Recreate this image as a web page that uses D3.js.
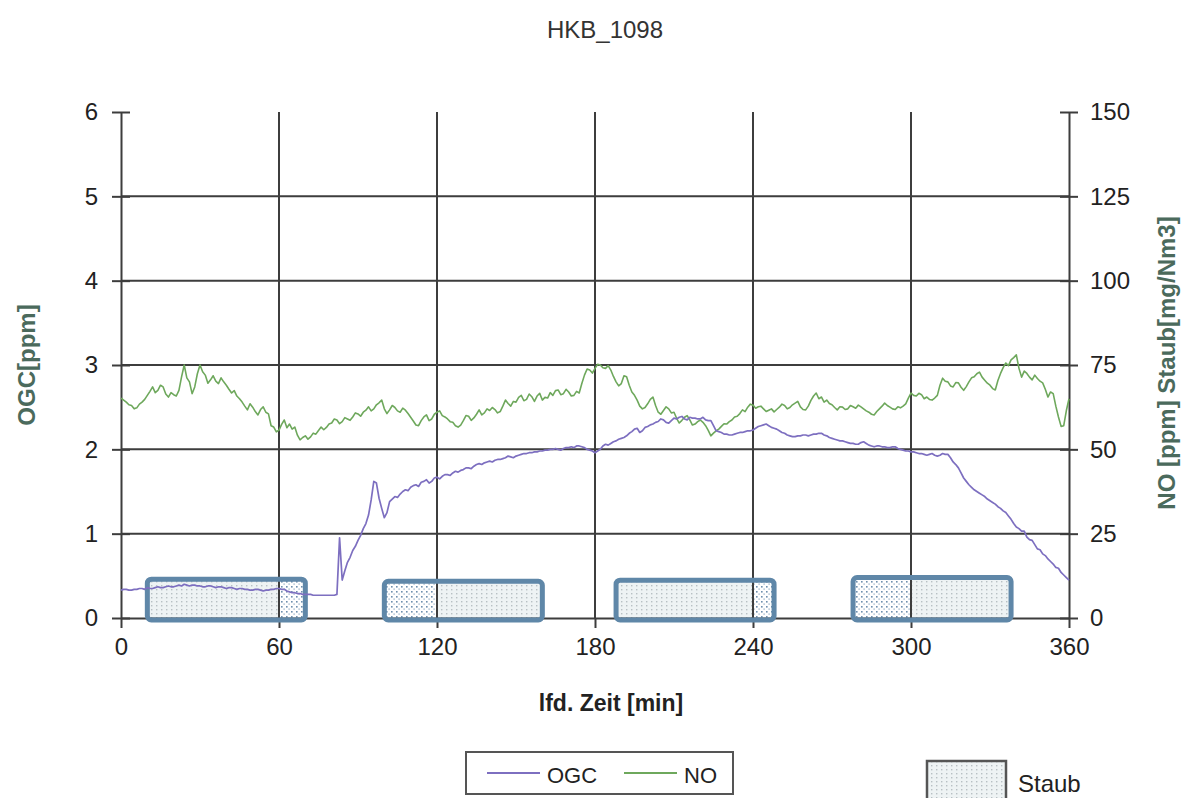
<!DOCTYPE html>
<html>
<head>
<meta charset="utf-8">
<script src="https://cdn.jsdelivr.net/npm/d3@7"></script>
<style>
  html, body { margin: 0; padding: 0; background: #ffffff; }
  svg { display: block; font-family: "Liberation Sans", Arial, sans-serif; }
</style>
</head>
<body>
<svg id="chart" width="1189" height="798"></svg>
<script>
// ---- data ----------------------------------------------------------------
const chartTitle = "HKB_1098";

// one reading per minute, 0 ... 360 min
const minutes = d3.range(0, 361);

// OGC [ppm], left axis
const ogcValue = [
  0.33,0.34,0.34,0.33,0.33,0.34,0.34,0.35,0.35,0.34,
  0.36,0.35,0.35,0.36,0.37,0.36,0.36,0.37,0.38,0.37,
  0.37,0.38,0.39,0.38,0.40,0.39,0.38,0.39,0.39,0.38,
  0.38,0.37,0.37,0.38,0.38,0.37,0.36,0.37,0.37,0.36,
  0.35,0.36,0.36,0.35,0.34,0.35,0.35,0.34,0.34,0.33,
  0.33,0.34,0.34,0.33,0.32,0.33,0.33,0.34,0.34,0.35,
  0.35,0.34,0.34,0.32,0.31,0.30,0.30,0.29,0.29,0.28,
  0.28,0.28,0.28,0.27,0.27,0.27,0.27,0.27,0.27,0.27,
  0.27,0.27,0.28,0.95,0.45,0.56,0.66,0.72,0.80,0.85,
  0.92,0.98,1.06,1.12,1.22,1.40,1.62,1.60,1.42,1.30,
  1.19,1.25,1.38,1.41,1.44,1.43,1.47,1.50,1.52,1.51,
  1.55,1.57,1.58,1.56,1.61,1.62,1.64,1.60,1.62,1.66,
  1.67,1.65,1.68,1.70,1.70,1.69,1.72,1.74,1.73,1.75,
  1.76,1.78,1.78,1.77,1.80,1.82,1.83,1.82,1.84,1.85,
  1.86,1.85,1.87,1.88,1.88,1.89,1.90,1.92,1.91,1.90,
  1.92,1.93,1.94,1.95,1.95,1.96,1.96,1.97,1.97,1.98,
  1.98,1.99,1.99,2.00,2.00,2.01,2.00,1.99,2.01,2.02,
  2.02,2.03,2.02,2.04,2.04,2.03,2.02,2.00,1.99,1.98,
  1.96,1.98,2.00,2.04,2.06,2.05,2.07,2.09,2.10,2.12,
  2.13,2.14,2.16,2.19,2.21,2.24,2.25,2.20,2.22,2.26,
  2.27,2.29,2.30,2.32,2.33,2.36,2.35,2.32,2.31,2.34,
  2.37,2.36,2.38,2.39,2.36,2.35,2.38,2.37,2.37,2.36,
  2.36,2.38,2.35,2.34,2.34,2.28,2.22,2.21,2.20,2.18,
  2.18,2.17,2.17,2.18,2.19,2.20,2.20,2.21,2.22,2.22,
  2.23,2.25,2.27,2.28,2.29,2.30,2.28,2.26,2.25,2.24,
  2.22,2.20,2.19,2.17,2.16,2.15,2.15,2.16,2.16,2.17,
  2.17,2.16,2.17,2.18,2.18,2.19,2.19,2.17,2.16,2.14,
  2.13,2.12,2.11,2.10,2.10,2.09,2.08,2.07,2.07,2.06,
  2.06,2.08,2.09,2.07,2.05,2.04,2.03,2.04,2.04,2.03,
  2.03,2.02,2.02,2.03,2.03,2.01,2.00,1.99,1.98,1.98,
  1.97,1.97,1.96,1.95,1.95,1.94,1.93,1.94,1.95,1.93,
  1.92,1.93,1.95,1.94,1.94,1.90,1.85,1.82,1.78,1.72,
  1.66,1.62,1.58,1.55,1.52,1.50,1.48,1.46,1.44,1.41,
  1.39,1.37,1.35,1.32,1.30,1.27,1.25,1.21,1.17,1.12,
  1.08,1.06,1.03,1.03,0.96,0.93,0.92,0.87,0.82,0.81,
  0.76,0.74,0.70,0.67,0.64,0.60,0.59,0.54,0.51,0.48,
  0.45
];

// NO [ppm], right axis
const noValue = [
  65.2,64.6,64.0,63.2,63.0,62.0,62.3,63.4,64.0,64.8,
  66.0,67.2,68.5,66.8,67.5,69.0,68.5,66.4,65.5,66.8,
  66.2,65.8,67.5,71.5,75.0,71.2,70.0,66.5,68.5,72.4,
  75.0,73.0,72.0,69.6,70.6,71.8,70.2,69.5,71.2,70.0,
  69.0,67.8,66.7,67.4,65.8,65.0,64.0,62.8,61.7,63.5,
  62.5,61.2,60.2,61.8,62.6,61.0,60.5,57.0,56.6,55.2,
  55.7,57.4,58.7,56.4,57.5,56.0,56.6,54.2,52.8,53.5,
  54.0,53.0,53.7,54.8,54.5,55.6,56.6,55.8,56.5,57.5,
  57.8,59.0,58.7,57.6,58.2,59.4,59.0,58.6,59.6,60.8,
  60.5,59.8,61.0,61.6,62.6,61.4,62.0,63.2,63.8,64.6,
  62.0,60.6,61.7,63.0,62.4,61.4,61.0,62.2,61.6,60.6,
  59.5,58.4,57.2,57.0,58.5,59.6,60.2,58.5,59.0,60.4,
  61.0,61.4,60.0,59.6,59.0,58.2,58.0,57.0,56.6,57.2,
  58.5,60.0,59.8,58.6,59.3,60.4,61.7,60.2,60.8,62.0,
  61.5,62.4,61.8,60.8,61.2,62.8,64.6,63.6,62.8,64.2,
  64.0,65.4,66.0,64.4,64.8,66.4,65.6,64.2,65.8,66.6,
  64.6,65.4,65.2,66.8,66.0,67.4,67.6,66.2,66.5,67.8,
  67.0,65.8,66.0,67.2,66.7,69.5,72.0,73.8,73.5,72.6,
  74.0,75.2,75.0,74.2,74.0,74.8,73.5,71.6,70.0,68.8,
  69.5,71.8,71.5,69.0,67.0,66.0,64.6,62.8,62.0,62.4,
  63.5,64.8,65.5,63.0,61.0,60.4,61.5,62.6,62.0,60.8,
  61.0,59.2,57.8,58.6,59.5,60.0,58.7,57.2,57.5,58.2,
  58.7,58.0,57.0,55.6,54.0,54.8,55.5,56.0,56.8,57.6,
  57.5,58.2,58.7,59.6,59.8,60.6,61.7,61.2,62.5,63.4,
  63.1,62.2,62.6,62.8,62.0,61.2,61.6,62.0,61.1,61.8,
  62.5,63.4,63.0,62.0,62.4,63.2,63.7,64.2,62.6,61.8,
  61.7,62.8,64.5,65.8,66.7,65.0,65.5,64.0,64.6,63.6,
  63.2,62.4,61.7,62.6,62.5,61.8,62.0,63.0,62.6,62.2,
  63.1,62.6,62.0,61.4,61.0,60.4,60.2,61.2,62.0,62.8,
  63.7,63.0,62.5,62.0,61.8,62.6,62.3,62.8,63.5,65.2,
  66.7,66.0,65.8,66.6,66.2,65.0,65.5,64.8,64.6,65.2,
  66.0,69.0,71.1,70.2,70.0,68.8,68.5,69.8,69.7,68.4,
  67.5,68.6,70.0,71.2,71.5,72.4,72.9,71.4,70.5,69.6,
  69.0,68.0,67.6,70.4,72.5,74.2,75.6,74.8,76.5,77.2,
  78.0,74.0,71.4,73.2,72.5,71.4,70.6,72.0,71.0,70.2,
  69.7,67.8,65.5,67.0,66.5,62.8,59.6,56.8,57.0,61.5,
  65.0
];

// Staub [mg/Nm3] sampling intervals, right axis
const staubStart = [10, 100, 188, 278];
const staubEnd   = [70, 160, 248, 338];
const staubValue = [11.5, 10.9, 11.2, 12.0];

// axis ticks
const xTicks = [0, 60, 120, 180, 240, 300, 360];
const leftTicks = [0, 1, 2, 3, 4, 5, 6];
const rightTicks = [0, 25, 50, 75, 100, 125, 150];

// ---- layout ----------------------------------------------------------------
const svg = d3.select("#chart");
const L = 121, R = 1069, T = 112, B = 618;
const gridColor = "#3d3d3d";
const titleColor = "#4b6a5c";
const ogcColor = "#7d6fc0";
const noColor = "#6ea85c";

const x = d3.scaleLinear().domain([0, 360]).range([L, R]);
const yL = d3.scaleLinear().domain([0, 6]).range([B, T]);
const yR = d3.scaleLinear().domain([0, 150]).range([B, T]);

// ---- patterns for the Staub columns -----------------------------------------
const defs = svg.append("defs");
const light = defs.append("pattern").attr("id", "staubLight")
  .attr("patternUnits", "userSpaceOnUse").attr("width", 5).attr("height", 4);
light.append("rect").attr("width", 5).attr("height", 4).attr("fill", "#eef3f4");
light.append("rect").attr("x", 1).attr("y", 1).attr("width", 1.4).attr("height", 1.4).attr("fill", "#b7c0c4");

const dense = defs.append("pattern").attr("id", "staubDense")
  .attr("patternUnits", "userSpaceOnUse").attr("width", 5).attr("height", 5);
dense.append("rect").attr("width", 5).attr("height", 5).attr("fill", "#ffffff");
dense.append("rect").attr("x", 1).attr("y", 1).attr("width", 1.6).attr("height", 1.6).attr("fill", "#6d8fae");
dense.append("rect").attr("x", 3.5).attr("y", 3.5).attr("width", 1.2).attr("height", 1.2).attr("fill", "#8aa5bd");

const staub = staubStart.map((s, i) => ({ s, e: staubEnd[i], v: staubValue[i] }));

// column fills (light pattern, denser pattern on the short side of the gridline crossed)
const fills = svg.append("g");
staub.forEach(d => {
  const x0 = x(d.s), x1 = x(d.e), y0 = yR(d.v);
  fills.append("rect").attr("x", x0).attr("y", y0).attr("width", x1 - x0).attr("height", B - y0)
    .attr("fill", "url(#staubLight)");
  const g = xTicks.find(t => t > d.s && t < d.e);
  if (g !== undefined) {
    const gx = x(g);
    const leftShort = (gx - x0) < (x1 - gx);
    const a = leftShort ? x0 : gx, b = leftShort ? gx : x1;
    fills.append("rect").attr("x", a).attr("y", y0).attr("width", b - a).attr("height", B - y0)
      .attr("fill", "url(#staubDense)");
  }
});

// ---- grid -------------------------------------------------------------------
const grid = svg.append("g").attr("stroke", gridColor).attr("stroke-width", 2);
grid.selectAll("line.h").data(leftTicks.filter(t => t > 0 && t < 6)).join("line")
  .attr("x1", L).attr("x2", R).attr("y1", d => yL(d)).attr("y2", d => yL(d));
grid.selectAll("line.v").data(xTicks.filter(t => t > 0 && t < 360)).join("line")
  .attr("y1", T).attr("y2", B).attr("x1", d => x(d)).attr("x2", d => x(d));

// ---- axes -------------------------------------------------------------------
function styleAxis(g) {
  g.select(".domain").attr("stroke", gridColor).attr("stroke-width", 2);
  g.selectAll(".tick line").attr("stroke", gridColor).attr("stroke-width", 2);
  g.selectAll(".tick text").attr("fill", "#222").style("font-size", "24px")
    .style("font-family", "'Liberation Sans', Arial, sans-serif");
}

const axL = svg.append("g").attr("transform", `translate(${L},0)`)
  .call(d3.axisLeft(yL).tickValues(leftTicks).tickFormat(d3.format("d")).tickSizeInner(9).tickSizeOuter(0).tickPadding(14));
styleAxis(axL);
axL.selectAll(".tick line").attr("x2", -9).attr("x1", 9);

const axR = svg.append("g").attr("transform", `translate(${R},0)`)
  .call(d3.axisRight(yR).tickValues(rightTicks).tickFormat(d3.format("d")).tickSizeInner(9).tickSizeOuter(0).tickPadding(12));
styleAxis(axR);
axR.selectAll(".tick line").attr("x1", -9).attr("x2", 9);

const axB = svg.append("g").attr("transform", `translate(0,${B})`)
  .call(d3.axisBottom(x).tickValues(xTicks).tickFormat(d3.format("d")).tickSizeInner(10).tickSizeOuter(0).tickPadding(10));
styleAxis(axB);

// ---- Staub column borders --------------------------------------------------
svg.append("g").selectAll("rect").data(staub).join("rect")
  .attr("x", d => x(d.s)).attr("y", d => yR(d.v))
  .attr("width", d => x(d.e) - x(d.s)).attr("height", d => B - yR(d.v) + 2)
  .attr("rx", 4).attr("ry", 4)
  .attr("fill", "none").attr("stroke", "#5f87a8").attr("stroke-width", 5);

// ---- series lines ----------------------------------------------------------
const ogcLine = d3.line().x((d, i) => x(minutes[i])).y(d => yL(d));
const noLine = d3.line().x((d, i) => x(minutes[i])).y(d => yR(d));

svg.append("path").datum(noValue).attr("d", noLine)
  .attr("fill", "none").attr("stroke", noColor).attr("stroke-width", 1.6).attr("stroke-linejoin", "round");
svg.append("path").datum(ogcValue).attr("d", ogcLine)
  .attr("fill", "none").attr("stroke", ogcColor).attr("stroke-width", 1.7).attr("stroke-linejoin", "round");

// ---- titles -----------------------------------------------------------------
svg.append("text").attr("x", 605).attr("y", 38).attr("text-anchor", "middle")
  .style("font-size", "24px").attr("fill", "#333").text(chartTitle);

svg.append("text").attr("x", 611).attr("y", 711).attr("text-anchor", "middle")
  .style("font-size", "23px").style("font-weight", "bold").attr("fill", "#222").text("lfd. Zeit [min]");

svg.append("text").attr("transform", "translate(35,365) rotate(-90)").attr("text-anchor", "middle")
  .style("font-size", "24px").style("font-weight", "bold").attr("fill", titleColor).text("OGC[ppm]");

svg.append("text").attr("transform", "translate(1175,363) rotate(-90)").attr("text-anchor", "middle")
  .style("font-size", "24px").style("font-weight", "bold").attr("fill", titleColor).text("NO [ppm] Staub[mg/Nm3]");

// ---- legends ----------------------------------------------------------------
const leg = svg.append("g");
leg.append("rect").attr("x", 466).attr("y", 752).attr("width", 267).attr("height", 42)
  .attr("fill", "#fff").attr("stroke", "#555").attr("stroke-width", 2);
const legItems = [
  { name: "OGC", color: ogcColor, x0: 487 },
  { name: "NO", color: noColor, x0: 624 }
];
legItems.forEach(d => {
  leg.append("line").attr("x1", d.x0).attr("x2", d.x0 + 53).attr("y1", 773).attr("y2", 773)
    .attr("stroke", d.color).attr("stroke-width", 1.8);
  leg.append("text").attr("x", d.x0 + 60).attr("y", 783).style("font-size", "22px")
    .attr("fill", "#222").text(d.name);
});

const legS = svg.append("g");
legS.append("rect").attr("x", 927).attr("y", 761).attr("width", 79).attr("height", 45)
  .attr("fill", "url(#staubLight)").attr("stroke", "#555").attr("stroke-width", 2.5);
legS.append("text").attr("x", 1018).attr("y", 792).style("font-size", "24px")
  .attr("fill", "#222").text("Staub");
</script>
</body>
</html>
